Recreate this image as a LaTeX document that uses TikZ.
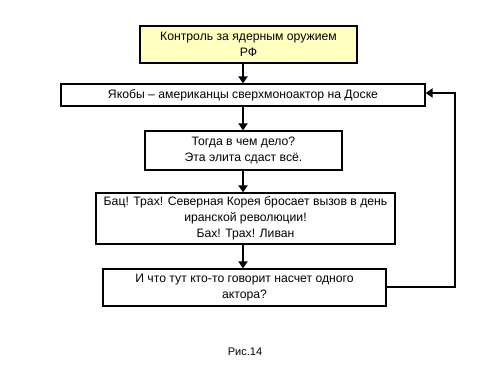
\documentclass[tikz,border=0pt]{standalone}
\usepackage{fontspec}
\setmainfont{Liberation Sans}
\usetikzlibrary{arrows.meta}
\begin{document}
\begin{tikzpicture}[x=1pt,y=-1pt,
  box/.style={draw=black,line width=1.2pt,fill=white,inner sep=0pt,align=center,font=\fontsize{12.2}{16}\selectfont},
  flow/.style={line width=2.8pt,-{Triangle[length=7pt,width=9pt]}}]
\useasboundingbox (0,0) rectangle (500,375);
\node[box,fill={rgb,255:red,255;green,255;blue,192},minimum width=217pt,minimum height=37pt] (b1) at (248.5,44.5) {Контроль за ядерным оружием\\РФ};
\node[box,minimum width=364pt,minimum height=22pt] (b2) at (243,95) {Якобы – американцы сверхмоноактор на Доске};
\node[box,minimum width=197pt,minimum height=39pt] (b3) at (243.5,150.5) {Тогда в чем дело?\\Эта элита сдаст всё.};
\node[box,minimum width=299pt,minimum height=51pt] (b4) at (245.5,218.5) {Бац! Трах! Северная Корея бросает вызов в день\\иранской революции!\\Бах! Трах! Ливан};
\node[box,minimum width=283pt,minimum height=37pt] (b5) at (244.5,287.5) {И что тут кто-то говорит насчет одного\\актора?};
\node[font=\fontsize{11}{13}\selectfont] (cap) at (245,352) {Рис.14};
\coordinate (c1) at (455,287);
\coordinate (c2) at (455,93);
\draw[flow] (b1.south -| 243,0) -- (b2.north -| 243,0);
\draw[flow] (b2.south -| 243,0) -- (b3.north -| 243,0);
\draw[flow] (b3.south -| 243,0) -- (b4.north -| 243,0);
\draw[flow] (b4.south -| 243,0) -- (b5.north -| 243,0);
\draw[flow,line join=miter] (b5.east |- c1) -- (c1) -- (c2) -- (b2.east |- c2);
\end{tikzpicture}
\end{document}
